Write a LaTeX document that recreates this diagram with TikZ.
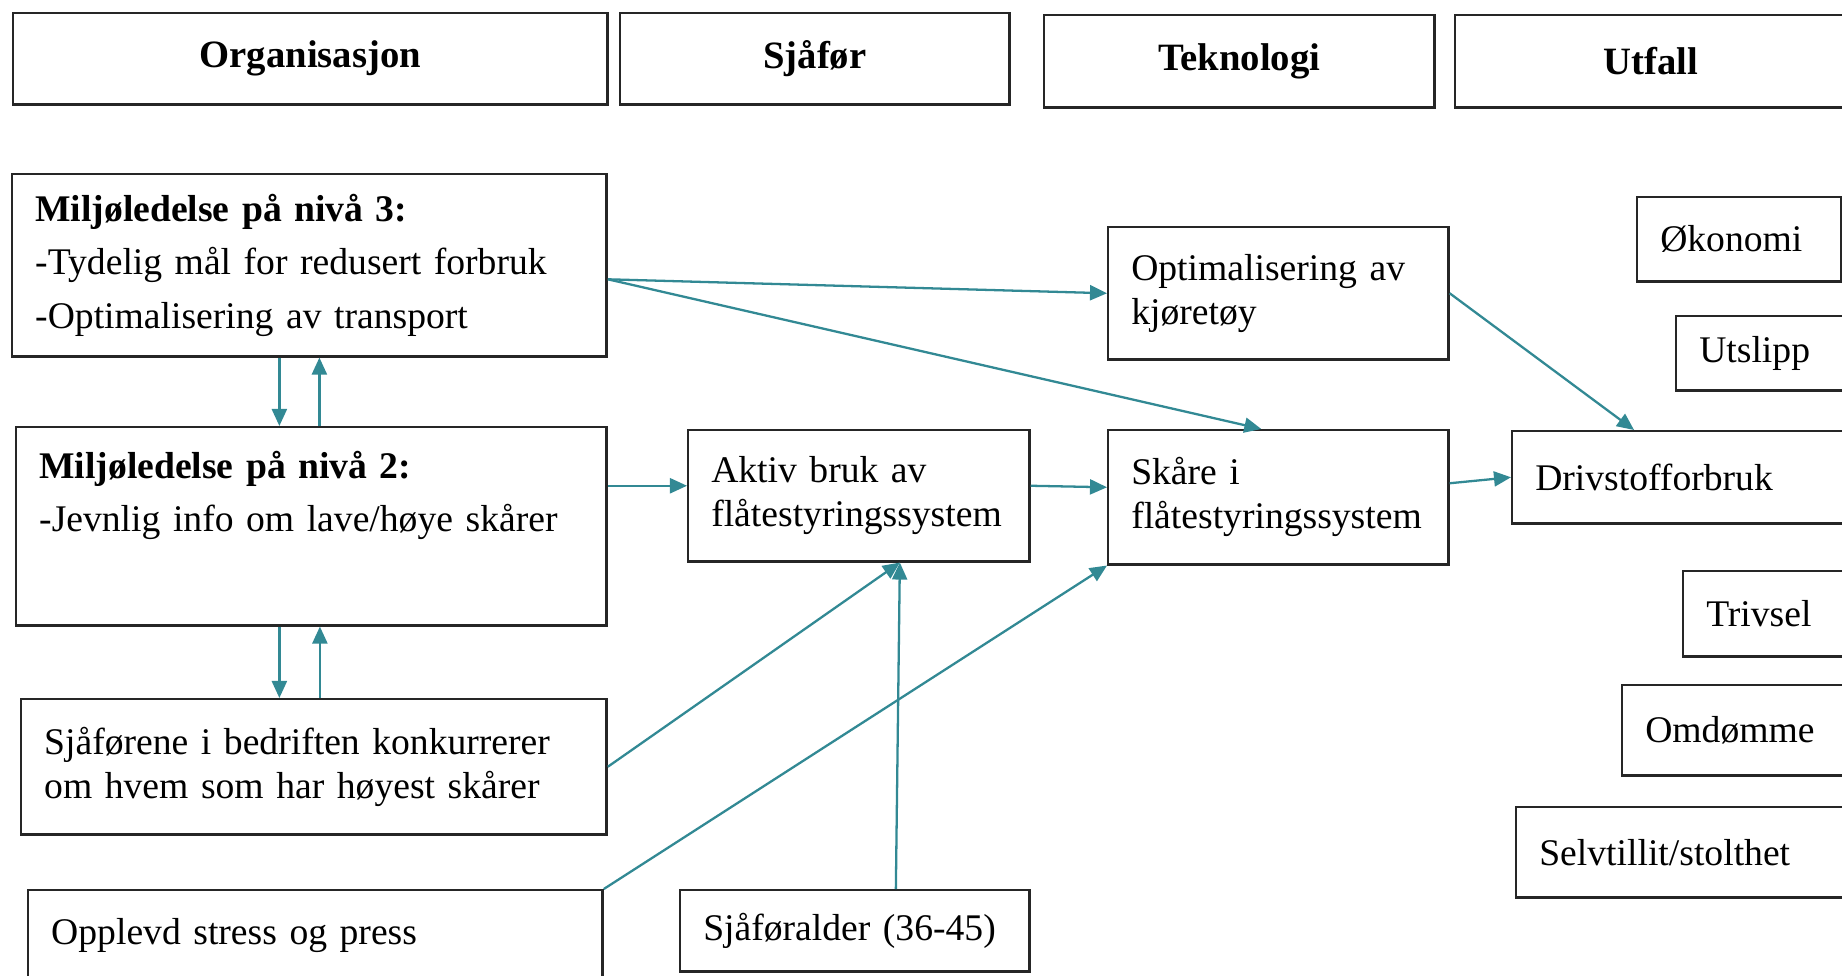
\documentclass[tikz,border=0pt]{standalone}
\usepackage{fontspec}
\setmainfont{Liberation Serif}[WordSpace=0.8]
\usetikzlibrary{arrows.meta, positioning}
\definecolor{tealline}{RGB}{50,137,148}
\hyphenpenalty=10000
\exhyphenpenalty=10000

\begin{document}
\begin{tikzpicture}[x=0.01cm, y=-0.01cm,
        box/.style={draw=black!85, line width=0.7pt, anchor=north west, inner xsep=0.23cm, inner ysep=0pt, align=left, font=\fontsize{10.7}{12.5}\selectfont},
        tallbox/.style={box, font=\fontsize{10.7}{15.2}\selectfont},
        hdr/.style={draw=black!85, line width=0.7pt, anchor=north west, inner sep=0pt, font=\fontsize{11}{13}\selectfont\bfseries},
        arr/.style={draw=tealline, line width=0.65pt, -{Triangle[length=0.17cm, width=0.15cm]}}]
        \fill[white, use as bounding box] (0,0) rectangle (1842,976);

        \node (org) [hdr, minimum width=5.94cm, minimum height=0.91cm] at (12,12) {Organisasjon};
        \node (sjafor) [hdr, minimum width=3.89cm, minimum height=0.91cm] at (619,12) {Sjåfør};
        \node (tek) [hdr, minimum width=3.90cm, minimum height=0.92cm] at (1043,14) {Teknologi};
        \node (utfall) [hdr, minimum width=3.91cm, minimum height=0.92cm] at (1454,14) {Utfall};

        \node (niva3) [tallbox, text width=5.48cm, minimum height=1.82cm] at (11,173) {\textbf{Miljøledelse på nivå 3:}\\-Tydelig mål for redusert forbruk\\-Optimalisering av transport};
        \node (niva2) [tallbox, text width=5.44cm, minimum height=1.98cm] at (15,426) {\textbf{Miljøledelse på nivå 2:}\\-Jevnlig info om lave/høye skårer\\\strut};
        \node (konk) [box, text width=5.39cm, minimum height=1.35cm] at (20,698) {Sjåførene i bedriften konkurrerer\\om hvem som har høyest skårer};
        \node (stress) [box, text width=5.28cm, minimum height=0.90cm] at (27,889) {Opplevd stress og press};
        \node (aktiv) [box, text width=2.95cm, minimum height=1.31cm] at (687,429) {Aktiv bruk av\\flåtestyringssystem};
        \node (alder) [box, text width=3.03cm, minimum height=0.81cm] at (679,889) {Sjåføralder (36-45)};
        \node (optk) [box, text width=2.94cm, minimum height=1.32cm] at (1107,226) {Optimalisering av\\kjøretøy};
        \node (skare) [box, text width=2.94cm, minimum height=1.34cm] at (1107,429) {Skåre i\\flåtestyringssystem};
        \node (driv) [box, text width=3.00cm, minimum height=0.92cm] at (1511,430) {Drivstofforbruk};
        \node (okon) [box, text width=1.58cm, minimum height=0.84cm] at (1636,196) {Økonomi};
        \node (utsl) [box, text width=1.50cm, minimum height=0.74cm] at (1675,315) {Utslipp};
        \node (trivs) [box, text width=1.50cm, minimum height=0.85cm] at (1682,570) {Trivsel};
        \node (omd) [box, text width=2.00cm, minimum height=0.90cm] at (1621,684) {Omdømme};
        \node (selv) [box, text width=3.00cm, minimum height=0.90cm] at (1515,806) {Selvtillit/stolthet};

        \draw[arr] ([xshift=-0.30cm]niva3.south) -- ([xshift=-0.30cm]niva3.south |- niva2.north);
        \draw[arr] ([xshift=0.08cm]niva2.north) -- ([xshift=0.08cm]niva2.north |- niva3.south);
        \draw[arr] ([xshift=-0.32cm]niva2.south) -- ([xshift=-0.32cm]niva2.south |- konk.north);
        \draw[arr] ([xshift=0.06cm]konk.north) -- ([xshift=0.06cm]konk.north |- niva2.south);
        \draw[arr] ([yshift=-0.14cm]niva3.east) -- (optk.west);
        \draw[arr] ([yshift=-0.14cm]niva3.east) -- ([xshift=-0.17cm]skare.north);
        \draw[arr] ([yshift=0.1cm]niva2.east |- aktiv.west) -- ([yshift=0.1cm]aktiv.west);
        \draw[arr] ([yshift=0.1cm]aktiv.east) -- ([yshift=0.1cm]skare.west);
        \draw[arr] (optk.east) -- ([xshift=1.23cm]driv.north west);
        \draw[arr] ([yshift=0.14cm]skare.east) -- (driv.west);
        \draw[arr] (konk.east) -- ([xshift=0.41cm]aktiv.south);
        \draw[arr] ([xshift=0.41cm]alder.north) -- ([xshift=0.41cm]aktiv.south);
        \draw[arr] (stress.north east) -- (skare.south west);
    \end{tikzpicture}
\end{document}
